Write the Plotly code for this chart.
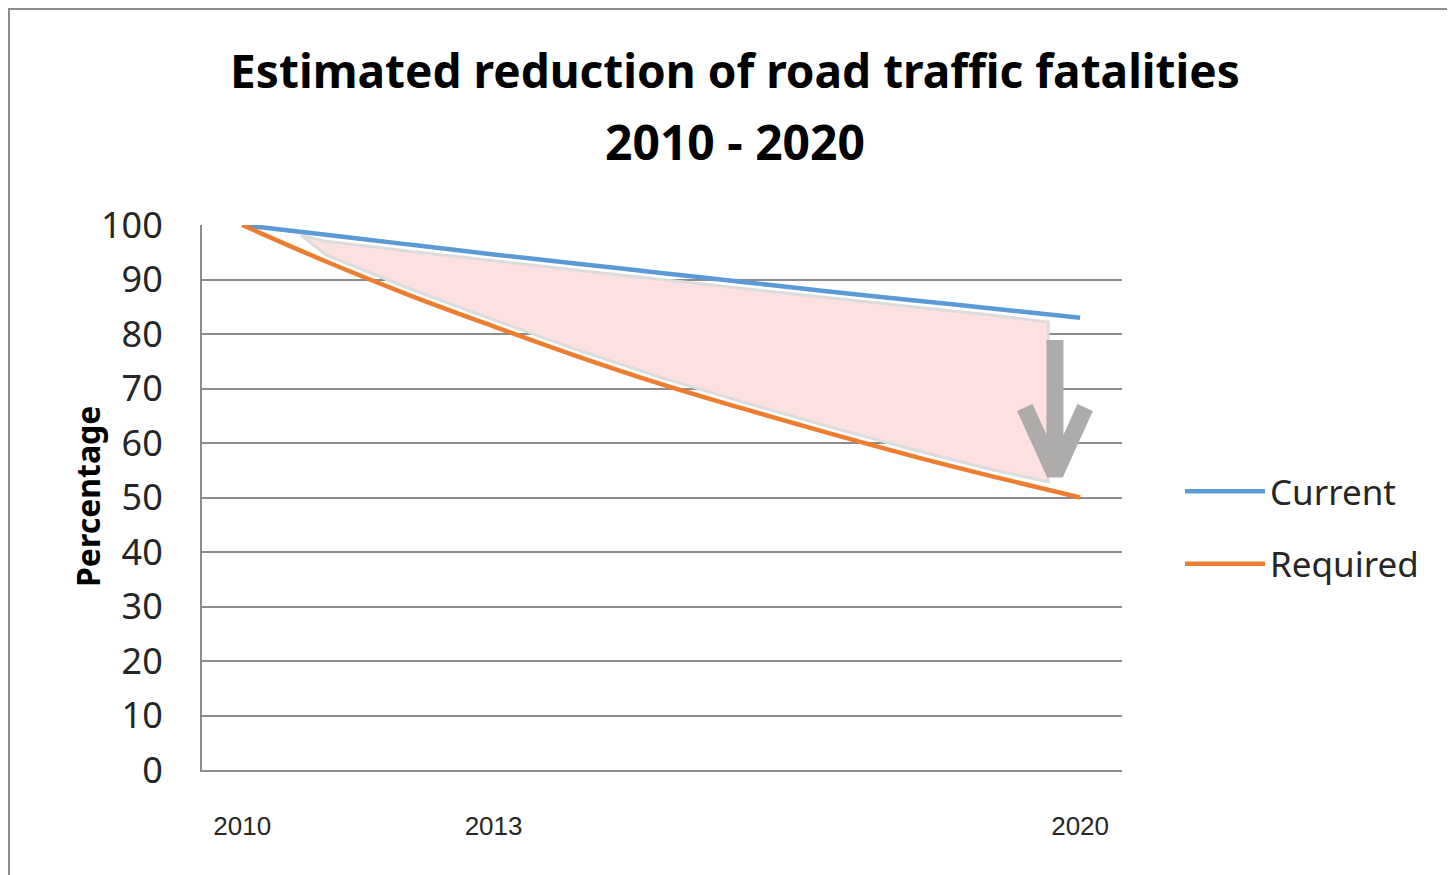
import numpy as np
import plotly.graph_objects as go

# données (base 100 en 2010)
years = [2010, 2011, 2012, 2013, 2014, 2015, 2016, 2017, 2018, 2019, 2020]
current = [100, 98.2, 96.4, 94.6, 92.9, 91.2, 89.5, 87.8, 86.2, 84.6, 83.0]
required = [100, 93.3, 87.1, 81.4, 75.9, 70.8, 66.2, 61.8, 57.6, 53.7, 50.0]
tick_years = [2010, 2013, 2020]
tick_labels = ["2010", "2013", "2020"]

FONT = "Noto Sans"
BLUE = "#5B9BD5"
ORANGE = "#ED7D31"
GRID = "#8c8c8c"
ARROW = "#AEABAB"

# zone de tracé en pixels de la figure (la page ajoute 8 px de marge)
L, T, W, H = 194, 217, 920, 545

fig = go.Figure()

# zone rose entre les deux courbes (légèrement en retrait)
x_start, x_end = 2010.7, 2019.62
inner = [y for y in years if x_start < y < x_end]
top = [float(np.interp(x_start, years, current)) - 0.6] + [float(np.interp(x, years, current)) - 1.2 for x in inner] + [float(np.interp(x_end, years, current)) - 1.4]
bot = [float(np.interp(x_end, years, required)) + 1.5] + [float(np.interp(x, years, required)) + 1.2 for x in inner[::-1]]
poly_x = [x_start] + inner + [x_end] + [x_end] + inner[::-1] + [x_start]
poly_y = top + bot + [top[0]]
fig.add_trace(go.Scatter(x=poly_x, y=poly_y, mode="lines", fill="toself",
                         fillcolor="#FDE1E1", line=dict(color="#dcdcdc", width=3),
                         hoverinfo="skip", showlegend=False))

fig.add_trace(go.Scatter(x=years, y=current, mode="lines", name="Current",
                         line=dict(color=BLUE, width=4.5, shape="spline"), legendgroup="a"))
fig.add_trace(go.Scatter(x=years, y=required, mode="lines", name="Required",
                         line=dict(color=ORANGE, width=4.5, shape="spline"), legendgroup="b"))

# flèche grise
ax = years[-1] - 0.3
fig.add_trace(go.Scatter(x=[ax, ax], y=[current[-1] - 4.1, required[-1] + 6], mode="lines",
                         line=dict(color=ARROW, width=17), hoverinfo="skip", showlegend=False))
fig.add_trace(go.Scatter(x=[ax - 0.36, ax, ax + 0.36], y=[required[-1] + 16.5, required[-1] + 4.3, required[-1] + 16.5],
                         mode="lines", line=dict(color=ARROW, width=17), hoverinfo="skip", showlegend=False))

fig.update_layout(
    width=1455, height=875,
    margin=dict(l=L, r=1455 - L - W, t=T, b=875 - T - H),
    paper_bgcolor="white", plot_bgcolor="white",
    font=dict(family=FONT, color="#262626"),
    title=dict(text="<b>Estimated reduction of road traffic fatalities</b>",
               x=727 / 1455, xanchor="center", y=1 - 64 / 875, yanchor="middle",
               yref="container", font=dict(size=46, color="black", family=FONT)),
    showlegend=True,
    legend=dict(x=(1172 - L) / W, xanchor="left", y=0.565, yanchor="top",
                font=dict(size=35, color="#262626"), tracegroupgap=24,
                itemwidth=80, bgcolor="rgba(0,0,0,0)"),
    xaxis=dict(range=[2009.52, 2020.5], tickvals=tick_years, ticktext=tick_labels,
               showgrid=False, zeroline=False, showline=True, linecolor=GRID, linewidth=2,
               ticks="outside", ticklen=32, tickcolor="rgba(0,0,0,0)",
               tickfont=dict(family="Liberation Sans", size=26, color="#262626")),
    yaxis=dict(range=[0, 100], dtick=10, showgrid=True, gridcolor=GRID, gridwidth=1.5,
               zeroline=False, showline=True, linecolor=GRID, linewidth=2,
               ticks="outside", ticklen=30, tickcolor="rgba(0,0,0,0)",
               tickfont=dict(size=36, color="#262626")),
    annotations=[
        dict(text="<b>2010 - 2020</b>", xref="paper", yref="paper",
             x=(727 - L) / W, y=(T + H - 133) / H, xanchor="center", yanchor="middle",
             showarrow=False, font=dict(size=48, color="black", family=FONT)),
        dict(text="<b>Percentage</b>", xref="paper", yref="paper", textangle=-90,
             x=(79 - L) / W, y=(T + H - 489) / H, xanchor="center", yanchor="middle",
             showarrow=False, font=dict(size=32, color="black", family=FONT)),
    ],
    shapes=[dict(type="rect", xref="paper", yref="paper",
                 x0=(1 - L) / W, x1=(1470 - L) / W,
                 y0=(T + H - 890) / H, y1=(T + H - 1) / H,
                 line=dict(color="#8c8c8c", width=2), layer="below")],
)

fig.write_html("out.html")
